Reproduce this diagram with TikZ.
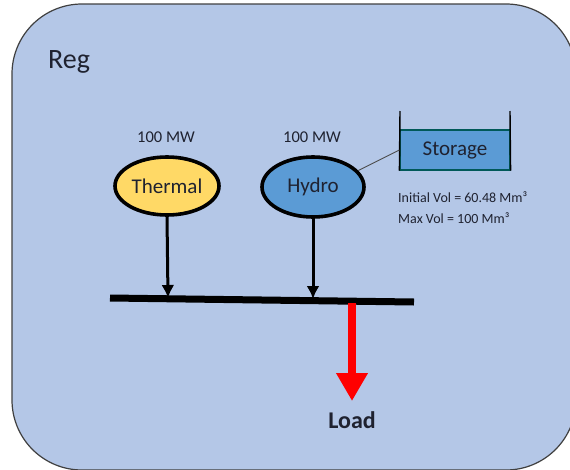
\documentclass[tikz,border=0pt]{standalone}
\usepackage{fontspec}
\setmainfont{Carlito}
\usetikzlibrary{shapes.geometric,arrows.meta}
\definecolor{regbg}{HTML}{B4C7E7}
\definecolor{thermfill}{HTML}{FFD966}
\definecolor{hydrofill}{HTML}{5B9BD5}
\definecolor{txt}{HTML}{1F2230}
\tikzset{
  gen/.style={ellipse, draw=black, line width=3.6pt, minimum width=104pt, minimum height=58pt, inner sep=0pt, font=\fontsize{21}{24}\selectfont, text=txt},
  mwlabel/.style={font=\fontsize{16.5}{19}\selectfont, text=txt},
  feed/.style={line width=3pt, -{Latex[length=13pt,width=13pt]}},
  small/.style={font=\fontsize{14}{16}\selectfont, text=txt, anchor=west, inner sep=0pt}
}
\begin{document}
\begin{tikzpicture}[x=1pt,y=-1pt]
\useasboundingbox (0,0) rectangle (570,469);
\begin{scope}
\clip (0,0) rectangle (570,469);
\draw[fill=regbg, draw=black!75, line width=1.2pt, rounded corners=70pt] (12,4) rectangle (576,470);
\end{scope}
\node[font=\fontsize{28}{32}\selectfont, text=txt] (reg) at (69,62) {Reg};
\node[mwlabel] (tcap) at (166,137) {100 MW};
\node[mwlabel] (hcap) at (312,137) {100 MW};
\node[gen, fill=thermfill] (thermal) at (167,186) {Thermal};
\node[gen, fill=hydrofill, minimum width=102pt, minimum height=60pt] (hydro) at (313,187) {Hydro};
% storage tank
\node[draw=teal!70!black, fill=hydrofill, line width=1.2pt, minimum width=110pt, minimum height=40pt, inner sep=0pt, font=\fontsize{21}{24}\selectfont, text=txt] (storage) at (455,150) {Storage};
\coordinate (tl) at (400,111);
\coordinate (tr) at (510,111);
\draw[black, line width=1.4pt] (tl) -- (storage.south west) (tr) -- (storage.south east);
\draw[black!70, line width=0.9pt] (hydro.20) -- (storage.west);
\node[small] (ivol) at (398,197) {Initial Vol = 60.48 Mm³};
\node[small] (mvol) at (398,218) {Max Vol = 100 Mm³};
% bus
\coordinate (busl) at (110,298);
\coordinate (busr) at (414,302);
\draw[black, line width=7pt] (busl) -- (busr);
\coordinate (tb) at (168,298);
\coordinate (hb) at (313,299);
\draw[feed] (thermal.south) -- (tb);
\draw[feed] (hydro.south) -- (hb);
% load arrow
\coordinate (lstart) at (352,303);
\coordinate (lend) at (352,401);
\node[font=\bfseries\fontsize{24}{28}\selectfont, text=txt] (load) at (352,420) {Load};
\draw[red, line width=8pt, -{Triangle[length=28pt,width=30pt]}] (lstart) -- (lend);
\end{tikzpicture}
\end{document}
